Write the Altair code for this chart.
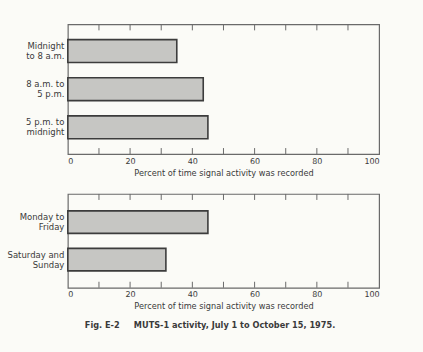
import altair as alt
import pandas as pd

# --- data ---
top_categories = ["Midnight\nto 8 a.m.", "8 a.m. to\n5 p.m.", "5 p.m. to\nmidnight"]
top_values = [35, 43.5, 45]
bottom_categories = ["Monday to\nFriday", "Saturday and\nSunday"]
bottom_values = [45, 31.5]
label_ticks = [0, 20, 40, 60, 80, 100]
mark_ticks = [10, 20, 30, 40, 50, 60, 70, 80, 90]
x_title = "Percent of time signal activity was recorded"
caption = "Fig. E-2\u00a0\u00a0\u00a0\u00a0\u00a0MUTS-1 activity, July 1 to October 15, 1975."

FONT = "DejaVu Sans"
INK = "#3a3a3a"
FRAME = "#6a6a6a"


def panel(cats, vals, h, pad_outer, title=None):
    df = pd.DataFrame({"cat": cats, "val": vals})
    bars = alt.Chart(df).mark_bar(
        fill="#c6c6c3", stroke="#3c3c3c", strokeWidth=1.6
    ).encode(
        x=alt.X(
            "val:Q",
            scale=alt.Scale(domain=[0, 100], nice=False),
            axis=alt.Axis(
                values=label_ticks, title=x_title, domain=False, ticks=False,
                grid=False, labelPadding=3, labelFontSize=8, titleFontSize=8.2,
                titleFontWeight="normal", labelColor=INK, titleColor=INK,
                labelFont=FONT, titleFont=FONT, titlePadding=4,
            ),
        ),
        y=alt.Y(
            "cat:N",
            sort=cats,
            scale=alt.Scale(paddingInner=0.4, paddingOuter=pad_outer),
            axis=alt.Axis(
                title=None, domain=False, ticks=False, grid=False,
                labelExpr="split(datum.label, '\\n')", labelLineHeight=10,
                labelFontSize=8.5, labelFont=FONT, labelColor=INK,
                labelPadding=4, labelAlign="right", labelBaseline="middle",
                labelOffset=-5,
            ),
        ),
    )
    tdf = pd.DataFrame({"t": mark_ticks})
    top_t = alt.Chart(tdf).mark_rule(color=FRAME, strokeWidth=1).encode(
        x=alt.X("t:Q"), y=alt.value(0), y2=alt.value(6)
    )
    bot_t = alt.Chart(tdf).mark_rule(color=FRAME, strokeWidth=1).encode(
        x=alt.X("t:Q"), y=alt.value(h - 6), y2=alt.value(h)
    )
    props = dict(width=312, height=h)
    if title is not None:
        props["title"] = title
    return alt.layer(bars, top_t, bot_t).properties(**props)


top = panel(top_categories, top_values, 130, 0.4)
bottom = panel(
    bottom_categories, bottom_values, 94, 0.45,
    title=alt.TitleParams(
        caption, orient="bottom", anchor="start", frame="group", dx=17,
        fontSize=8.2, font=FONT, fontWeight="bold", color=INK, offset=12,
    ),
)

chart = alt.vconcat(top, bottom, spacing=15).properties(
    padding={"left": 6, "top": 22, "right": 43, "bottom": 22},
    background="#fbfbf7",
).configure_view(stroke=FRAME, strokeWidth=1.2)

chart.save("out.html", embed_options={"renderer": "svg", "actions": False})
